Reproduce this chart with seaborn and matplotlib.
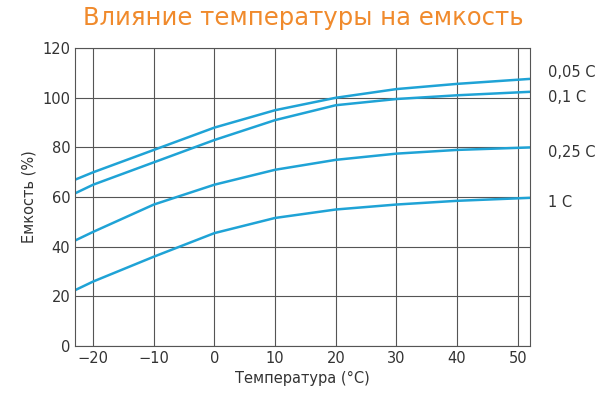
import pandas as pd
import matplotlib.pyplot as plt
import seaborn as sns

temps = [-23, -20, -10, 0, 10, 20, 30, 40, 52]
c005 = [67, 70, 79, 88, 95, 100, 103.5, 105.6, 107.6]
c01 = [61.5, 65, 74, 83, 91, 97, 99.5, 101, 102.4]
c025 = [42.5, 46, 57, 65, 71, 75, 77.5, 79, 80]
c1 = [22.5, 26, 36, 45.5, 51.6, 55, 57, 58.5, 59.7]
names = ['0,05 C', '0,1 C', '0,25 C', '1 C']
label_y = [110, 100, 78, 58]

df = pd.DataFrame({'t': temps * 4,
                   'v': c005 + c01 + c025 + c1,
                   's': sum([[n] * len(temps) for n in names], [])})

sns.set_style('white')
fig, ax = plt.subplots(figsize=(6, 4.01), dpi=100)
sns.lineplot(data=df, x='t', y='v', units='s', estimator=None, color='#1fa3d6',
             linewidth=1.8, ax=ax, legend=False)
for n, ly in zip(names, label_y):
    ax.text(1.04, ly / 120, n, transform=ax.transAxes, fontsize=10.5,
            va='center', color='#333333')

ax.set_xlim(-23, 52)
ax.set_ylim(0, 120)
ax.set_xticks(range(-20, 51, 10))
ax.set_yticks(range(0, 121, 20))
ax.grid(True, color='#555555', linewidth=0.8)
for s in ax.spines.values():
    s.set_color('#555555')
ax.tick_params(labelsize=10.5, colors='#333333', length=0)
ax.set_xlabel('Температура (°С)', fontsize=10.5, color='#333333')
ax.set_ylabel('Емкость (%)', fontsize=10.5, color='#333333')
fig.suptitle('Влияние температуры на емкость', color='#f08a2c', fontsize=17.5, x=0.505, y=0.985)
plt.subplots_adjust(left=0.125, right=0.883, top=0.88, bottom=0.137)
plt.savefig('out.png')
